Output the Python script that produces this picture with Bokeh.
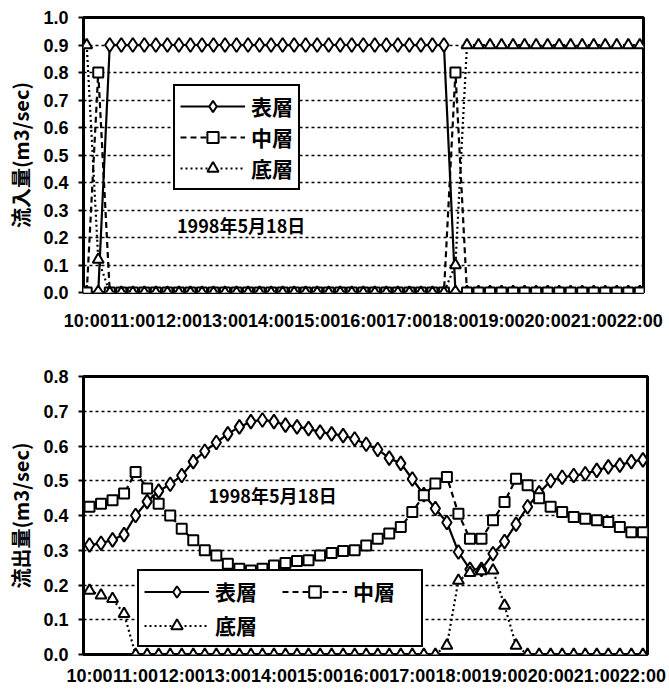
from bokeh.plotting import figure
from bokeh.models import FixedTicker, PrintfTickFormatter, Legend, LegendItem, Label, Range1d
from bokeh.layouts import column
from bokeh.embed import file_html
from bokeh.resources import INLINE

# ---------------- data ----------------
time_labels = [
    "10:00", "10:15", "10:30", "10:45", "11:00", "11:15", "11:30", "11:45",
    "12:00", "12:15", "12:30", "12:45", "13:00", "13:15", "13:30", "13:45",
    "14:00", "14:15", "14:30", "14:45", "15:00", "15:15", "15:30", "15:45",
    "16:00", "16:15", "16:30", "16:45", "17:00", "17:15", "17:30", "17:45",
    "18:00", "18:15", "18:30", "18:45", "19:00", "19:15", "19:30", "19:45",
    "20:00", "20:15", "20:30", "20:45", "21:00", "21:15", "21:30", "21:45",
    "22:00",
]
tick_labels = ["10:00", "11:00", "12:00", "13:00", "14:00", "15:00", "16:00",
               "17:00", "18:00", "19:00", "20:00", "21:00", "22:00"]

# inflow (m3/sec)
in_surface = [0.0, 0.0,
              0.9, 0.9, 0.9, 0.9, 0.9, 0.9, 0.9, 0.9, 0.9, 0.9,
              0.9, 0.9, 0.9, 0.9, 0.9, 0.9, 0.9, 0.9, 0.9, 0.9,
              0.9, 0.9, 0.9, 0.9, 0.9, 0.9, 0.9, 0.9, 0.9, 0.9,
              0.0, 0.0, 0.0, 0.0, 0.0, 0.0, 0.0, 0.0, 0.0, 0.0,
              0.0, 0.0, 0.0, 0.0, 0.0, 0.0, 0.0]
in_middle = [0.0, 0.8,
             0.0, 0.0, 0.0, 0.0, 0.0, 0.0, 0.0, 0.0, 0.0, 0.0,
             0.0, 0.0, 0.0, 0.0, 0.0, 0.0, 0.0, 0.0, 0.0, 0.0,
             0.0, 0.0, 0.0, 0.0, 0.0, 0.0, 0.0, 0.0, 0.0, 0.0,
             0.8, 0.0, 0.0, 0.0, 0.0, 0.0, 0.0, 0.0, 0.0, 0.0,
             0.0, 0.0, 0.0, 0.0, 0.0, 0.0, 0.0]
in_bottom = [0.9, 0.12,
             0.0, 0.0, 0.0, 0.0, 0.0, 0.0, 0.0, 0.0, 0.0, 0.0,
             0.0, 0.0, 0.0, 0.0, 0.0, 0.0, 0.0, 0.0, 0.0, 0.0,
             0.0, 0.0, 0.0, 0.0, 0.0, 0.0, 0.0, 0.0, 0.0, 0.0,
             0.1, 0.9, 0.9, 0.9, 0.9, 0.9, 0.9, 0.9, 0.9, 0.9,
             0.9, 0.9, 0.9, 0.9, 0.9, 0.9, 0.9]

# outflow (m3/sec)
out_surface = [0.315, 0.32, 0.33, 0.345, 0.40, 0.44, 0.47, 0.49, 0.515, 0.555,
               0.585, 0.61, 0.635, 0.655, 0.67, 0.675, 0.67, 0.66, 0.655, 0.65,
               0.64, 0.635, 0.63, 0.62, 0.605, 0.59, 0.565, 0.55, 0.505, 0.46,
               0.42, 0.38, 0.295, 0.245, 0.245, 0.29, 0.325, 0.375, 0.425, 0.465,
               0.50, 0.51, 0.515, 0.52, 0.53, 0.54, 0.545, 0.555, 0.56]
out_middle = [0.425, 0.434, 0.444, 0.463, 0.525, 0.478, 0.434, 0.40, 0.362, 0.329,
              0.30, 0.285, 0.261, 0.247, 0.242, 0.247, 0.256, 0.263, 0.269, 0.271,
              0.285, 0.292, 0.298, 0.30, 0.314, 0.333, 0.348, 0.367, 0.41, 0.458,
              0.492, 0.511, 0.405, 0.333, 0.333, 0.386, 0.439, 0.506, 0.487, 0.45,
              0.425, 0.41, 0.396, 0.391, 0.386, 0.381, 0.367, 0.352, 0.352]
out_bottom = [0.184, 0.17, 0.16, 0.117, 0.0, 0.0, 0.0, 0.0, 0.0, 0.0,
              0.0, 0.0, 0.0, 0.0, 0.0, 0.0, 0.0, 0.0, 0.0, 0.0,
              0.0, 0.0, 0.0, 0.0, 0.0, 0.0, 0.0, 0.0, 0.0, 0.0,
              0.0, 0.026, 0.213, 0.235, 0.24, 0.242, 0.141, 0.026, 0.0, 0.0,
              0.0, 0.0, 0.0, 0.0, 0.0, 0.0, 0.0, 0.0, 0.0]

series_names = ["表層", "中層", "底層"]
date_text = "1998年5月18日"
in_title = "流入量(m3/sec)"
out_title = "流出量(m3/sec)"


def to_hours(s):
    h, m = s.split(":")
    return int(h) + int(m) / 60.0


x_hours = [to_hours(t) for t in time_labels]
tick_hours = [int(to_hours(t)) for t in tick_labels]

JP = "Noto Sans CJK JP"
NUM = "Liberation Sans"


def make_fig(frame_w, frame_h, b_left, b_right, b_top, b_bottom, xr, yr, y_ticks, ytitle, x_standoff):
    p = figure(frame_width=frame_w, frame_height=frame_h,
               min_border_left=b_left, min_border_right=b_right,
               min_border_top=b_top, min_border_bottom=b_bottom,
               x_range=Range1d(*xr), y_range=Range1d(*yr),
               output_backend="svg", toolbar_location=None)
    p.background_fill_color = "white"
    p.border_fill_color = "white"
    p.outline_line_color = "black"
    p.outline_line_alpha = 1.0
    p.outline_line_width = 3
    p.xgrid.grid_line_color = None
    p.ygrid.grid_line_color = "black"
    p.ygrid.grid_line_dash = "3 3"
    p.ygrid.grid_line_width = 1.5

    p.yaxis.ticker = FixedTicker(ticks=y_ticks)
    p.yaxis.formatter = PrintfTickFormatter(format="%.1f")
    p.yaxis.axis_line_color = None
    p.yaxis.major_tick_out = 5
    p.yaxis.major_tick_in = 0
    p.yaxis.major_tick_line_width = 2
    p.yaxis.minor_tick_line_color = None
    p.yaxis.major_label_standoff = 10
    p.yaxis.major_label_text_font = NUM
    p.yaxis.major_label_text_font_style = "bold"
    p.yaxis.major_label_text_font_size = "18px"
    p.yaxis.major_label_text_color = "black"
    p.yaxis.axis_label = ytitle
    p.yaxis.axis_label_text_font = JP
    p.yaxis.axis_label_text_font_style = "bold"
    p.yaxis.axis_label_text_font_size = "20px"
    p.yaxis.axis_label_text_color = "black"
    p.yaxis.axis_label_standoff = 5

    p.xaxis.ticker = FixedTicker(ticks=tick_hours)
    p.xaxis.major_label_overrides = {h: lab for h, lab in zip(tick_hours, tick_labels)}
    p.xaxis.axis_line_color = None
    p.xaxis.major_tick_line_color = None
    p.xaxis.minor_tick_line_color = None
    p.xaxis.major_label_standoff = x_standoff
    p.xaxis.major_label_text_font = NUM
    p.xaxis.major_label_text_font_style = "bold"
    p.xaxis.major_label_text_font_size = "18px"
    p.xaxis.major_label_text_color = "black"
    return p


def add_series(p, ys):
    styles = [("diamond", "solid", 14), ("square", "6 4", 10), ("triangle", "2 3", 11)]
    items = []
    for name, y, (marker, dash, size) in zip(series_names, ys, styles):
        rl = p.line(x_hours, y, line_color="black", line_width=2.2, line_dash=dash)
        rm = p.scatter(x_hours, y, marker=marker, size=size, fill_color="white",
                       line_color="black", line_width=2)
        items.append(LegendItem(label=name, renderers=[rl, rm]))
    return items


# ---------------- top: inflow ----------------
p1 = make_fig(560, 275, 82, 27, 17, 48, (9.93, 22.08), (0, 1.0),
              [0.0, 0.1, 0.2, 0.3, 0.4, 0.5, 0.6, 0.7, 0.8, 0.9, 1.0], in_title, 12)
items1 = add_series(p1, [in_surface, in_middle, in_bottom])
leg1 = Legend(items=items1, location=(90, 102), orientation="vertical",
              glyph_width=65, glyph_height=28, label_height=28, label_standoff=6,
              spacing=1, padding=5, margin=0,
              label_text_font=JP, label_text_font_style="bold", label_text_font_size="21px",
              label_text_color="black",
              border_line_color="black", border_line_width=2, border_line_alpha=1.0,
              background_fill_color="white", background_fill_alpha=1.0)
p1.add_layout(leg1)
p1.add_layout(Label(x=13.35, y=0.245, text=date_text, text_font=JP, text_font_style="bold",
                    text_font_size="18px", text_align="center", text_baseline="middle",
                    text_color="black"))

# ---------------- bottom: outflow ----------------
p2 = make_fig(564, 278, 83, 22, 36, 39, (9.87, 22.1), (0, 0.8),
              [0.0, 0.1, 0.2, 0.3, 0.4, 0.5, 0.6, 0.7, 0.8], out_title, 5)
items2 = add_series(p2, [out_surface, out_middle, out_bottom])
leg2 = Legend(items=items2, location=(54, 7), orientation="horizontal", ncols=2,
              glyph_width=65, glyph_height=29, label_height=29, label_width=63, label_standoff=6,
              spacing=4, padding=5, margin=0,
              label_text_font=JP, label_text_font_style="bold", label_text_font_size="21px",
              label_text_color="black",
              border_line_color="black", border_line_width=2, border_line_alpha=1.0,
              background_fill_color="white", background_fill_alpha=1.0)
p2.add_layout(leg2)
p2.add_layout(Label(x=13.97, y=0.458, text=date_text, text_font=JP, text_font_style="bold",
                    text_font_size="18px", text_align="center", text_baseline="middle",
                    text_color="black"))

layout = column(p1, p2, spacing=0)
open("out.html", "w").write(file_html(layout, INLINE))
